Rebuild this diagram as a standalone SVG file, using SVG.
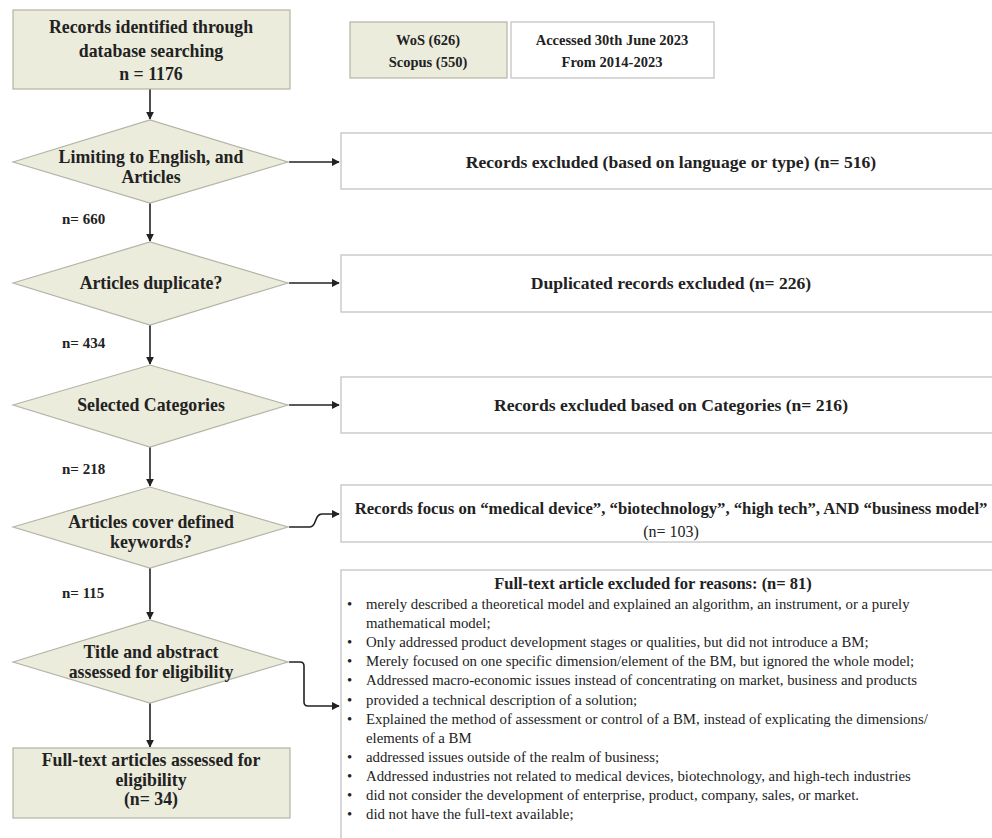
<svg xmlns="http://www.w3.org/2000/svg" width="992" height="838" viewBox="0 0 992 838">
<defs>
<marker id="ah" viewBox="0 0 10 10" refX="9" refY="5" markerWidth="8" markerHeight="8" markerUnits="userSpaceOnUse" orient="auto">
<path d="M0,0 L10,5 L0,10 z" fill="#222"/>
</marker>
</defs>
<style>
text{font-family:"Liberation Serif","DejaVu Serif",serif;fill:#222}
.nb{fill:#ebecdc;stroke:#b4b4a6;stroke-width:1.2}
.wb{fill:#fff;stroke:#c4c4c4;stroke-width:1.3}
.b{font-weight:bold}
.m{font-size:17.8px;font-weight:bold;text-anchor:middle}
.s{font-size:14.5px;font-weight:bold;text-anchor:middle}
.n{font-size:15px;font-weight:bold}
.r{font-size:17.6px;font-weight:bold;text-anchor:middle}
.li{font-size:14.8px}
.c{fill:none;stroke:#222;stroke-width:1.6}
</style>
<rect width="992" height="838" fill="#fff"/>
<g id="connectors">
<path class="c" d="M150,89 V119" marker-end="url(#ah)"/>
<path class="c" d="M150,203 V241" marker-end="url(#ah)"/>
<path class="c" d="M150,325 V364" marker-end="url(#ah)"/>
<path class="c" d="M150,447 V486" marker-end="url(#ah)"/>
<path class="c" d="M150,568 V619" marker-end="url(#ah)"/>
<path class="c" d="M150,703 V747" marker-end="url(#ah)"/>
<path class="c" d="M289,162 H339" marker-end="url(#ah)"/>
<path class="c" d="M289,283 H339" marker-end="url(#ah)"/>
<path class="c" d="M289,405 H339" marker-end="url(#ah)"/>
<path class="c" d="M289,527 H310 C317,527 314,514 322,514 H339" marker-end="url(#ah)"/>
<path class="c" d="M289,662 H300 Q304,662 304,666 V702 Q304,706 308,706 H339" marker-end="url(#ah)"/>
</g>
<g id="records-identified">
<rect class="nb" x="13" y="10" width="277" height="79"/>
<text class="m" x="151" y="33">Records identified through</text>
<text class="m" x="151" y="57">database searching</text>
<text class="m" x="151" y="80">n = 1176</text>
</g>
<g id="sources">
<rect class="nb" x="350" y="22" width="157" height="56"/>
<text class="s" x="428" y="45">WoS (626)</text>
<text class="s" x="428" y="67">Scopus (550)</text>
</g>
<g id="accessed">
<rect class="wb" x="511" y="22" width="203" height="56"/>
<text class="s" x="612" y="45">Accessed 30th June 2023</text>
<text class="s" x="612" y="67">From 2014-2023</text>
</g>
<g id="limit">
<polygon class="nb" points="13,162 150,120 288,162 150,203"/>
<text class="m" x="151" y="163">Limiting to English, and</text>
<text class="m" x="151" y="183">Articles</text>
</g>
<g id="excl-language">
<rect class="wb" x="341" y="133" width="660" height="56"/>
<text class="r" x="671" y="168">Records excluded (based on language or type) (n= 516)</text>
</g>
<text class="n" x="62" y="224">n= 660</text>
<g id="duplicate">
<polygon class="nb" points="13,283 150,242 288,283 150,325"/>
<text class="m" x="151" y="289">Articles duplicate?</text>
</g>
<g id="excl-duplicate">
<rect class="wb" x="341" y="255" width="660" height="57"/>
<text class="r" x="671" y="289">Duplicated records excluded (n= 226)</text>
</g>
<text class="n" x="62" y="348">n= 434</text>
<g id="categories">
<polygon class="nb" points="13,405 150,365 288,405 150,447"/>
<text class="m" x="151" y="411">Selected Categories</text>
</g>
<g id="excl-categories">
<rect class="wb" x="341" y="377" width="660" height="56"/>
<text class="r" x="671" y="411">Records excluded based on Categories (n= 216)</text>
</g>
<text class="n" x="62" y="474">n= 218</text>
<g id="keywords">
<polygon class="nb" points="13,527 150,487 288,527 150,568"/>
<text class="m" x="151" y="528">Articles cover defined</text>
<text class="m" x="151" y="548">keywords?</text>
</g>
<g id="excl-keywords">
<rect class="wb" x="341" y="485" width="660" height="57"/>
<text class="b" x="671" y="514" font-size="16.7" text-anchor="middle">Records focus on “medical device”, “biotechnology”, “high tech”, AND “business model”</text>
<text x="671" y="537" font-size="16" text-anchor="middle">(n= 103)</text>
</g>
<text class="n" x="62" y="598">n= 115</text>
<g id="title-abstract">
<polygon class="nb" points="13,662 150,620 288,662 150,703"/>
<text class="m" x="151" y="658" font-size="16.8">Title and abstract</text>
<text class="m" x="151" y="678" font-size="16.8">assessed for eligibility</text>
</g>
<g id="full-text">
<rect class="nb" x="13" y="748" width="277" height="70"/>
<text class="m" x="151" y="766" font-size="16.5">Full-text articles assessed for</text>
<text class="m" x="151" y="785.5" font-size="16.5">eligibility</text>
<text class="m" x="151" y="805" font-size="16.5">(n= 34)</text>
</g>
<g id="excl-fulltext">
<rect class="wb" x="341" y="570" width="660" height="290"/>
<text class="b" x="653" y="589" font-size="16.5" text-anchor="middle">Full-text article excluded for reasons: (n= 81)</text>
<g class="li">
<text x="347" y="609">•</text><text x="366" y="609">merely described a theoretical model and explained an algorithm, an instrument, or a purely</text>
<text x="366" y="628">mathematical model;</text>
<text x="347" y="647">•</text><text x="366" y="647">Only addressed product development stages or qualities, but did not introduce a BM;</text>
<text x="347" y="666">•</text><text x="366" y="666">Merely focused on one specific dimension/element of the BM, but ignored the whole model;</text>
<text x="347" y="685">•</text><text x="366" y="685">Addressed macro-economic issues instead of concentrating on market, business and products</text>
<text x="347" y="705">•</text><text x="366" y="705">provided a technical description of a solution;</text>
<text x="347" y="724">•</text><text x="366" y="724">Explained the method of assessment or control of a BM, instead of explicating the dimensions/</text>
<text x="366" y="743">elements of a BM</text>
<text x="347" y="762">•</text><text x="366" y="762">addressed issues outside of the realm of business;</text>
<text x="347" y="781">•</text><text x="366" y="781">Addressed industries not related to medical devices, biotechnology, and high-tech industries</text>
<text x="347" y="800">•</text><text x="366" y="800">did not consider the development of enterprise, product, company, sales, or market.</text>
<text x="347" y="819">•</text><text x="366" y="819">did not have the full-text available;</text>
</g>
</g>
</svg>
